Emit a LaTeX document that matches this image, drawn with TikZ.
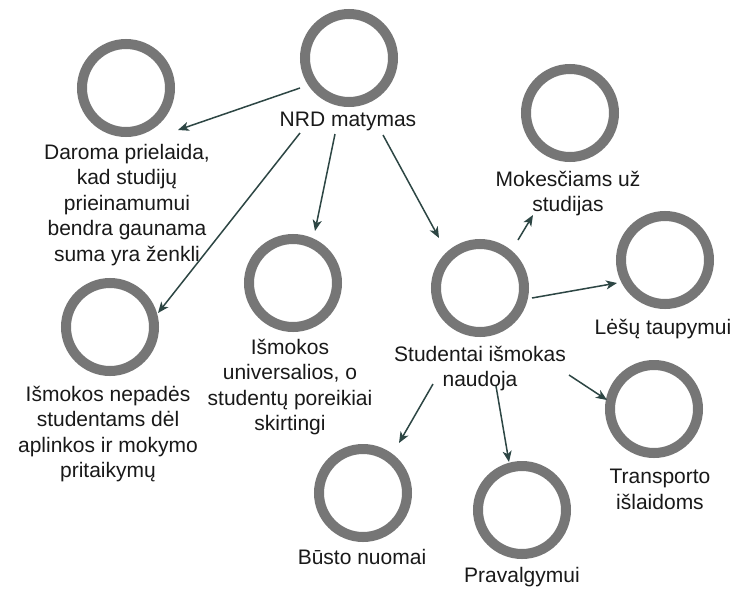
\documentclass[tikz,border=0pt]{standalone}
\usepackage{fontspec}
\setmainfont{Liberation Sans}
\usetikzlibrary{arrows.meta}
\definecolor{ringgray}{RGB}{118,118,118}
\definecolor{arrowc}{RGB}{45,70,68}
\definecolor{textc}{RGB}{25,25,25}
\begin{document}
\begin{tikzpicture}[x=1pt,y=-1pt,
  ring/.style={circle,draw=ringgray,line width=10pt,minimum size=88pt,inner sep=0pt},
  lbl/.style={anchor=north,inner sep=0pt,align=center,text=textc,font=\fontsize{21}{25.5}\selectfont},
  arr/.style={draw=arrowc,line width=1.5pt,-{Stealth[length=11pt,width=9pt,inset=3pt]}}]
\useasboundingbox[fill=white] (0,0) rectangle (740,590);
% rings
\node[ring] (nrdC) at (349,58) {};
\node[ring] (darC) at (126,88) {};
\node[ring] (mokC) at (570,113) {};
\node[ring] (lesC) at (665,260) {};
\node[ring] (stuC) at (480,288) {};
\node[ring] (uniC) at (293,283) {};
\node[ring] (nepC) at (110,327) {};
\node[ring] (traC) at (654,409) {};
\node[ring] (busC) at (363,493) {};
\node[ring] (praC) at (522,510) {};
% labels
\node[lbl] (nrdT) at (348,112) {NRD matymas};
\node[lbl] (darT) at (127,144) {Daroma prielaida,\\kad studijų\\prieinamumui\\bendra gaunama\\suma yra ženkli};
\node[lbl] (mokT) at (568,171) {Mokesčiams už\\studijas};
\node[lbl] (lesT) at (663,319) {Lėšų taupymui};
\node[lbl] (stuT) at (480,346) {Studentai išmokas\\naudoja};
\node[lbl] (traT) at (660,469) {Transporto\\išlaidoms};
\node[lbl] (praT) at (522,567) {Pravalgymui};
\node[lbl] (busT) at (362,549) {Būsto nuomai};
\node[lbl] (uniT) at (290,339) {Išmokos\\universalios, o\\studentų poreikiai\\skirtingi};
\node[lbl] (nepT) at (108,386) {Išmokos nepadės\\studentams dėl\\aplinkos ir mokymo\\pritaikymų};
% arrows
\draw[arr] ([shift={(-49,30)}]nrdC.center) -- ([shift={(52,42)}]darC.center);
\draw[arr] ([shift={(-49,75)}]nrdC.center) -- ([shift={(48,-14)}]nepC.center);
\draw[arr] ([shift={(-14,76)}]nrdC.center) -- ([shift={(22,-52)}]uniC.center);
\draw[arr] ([shift={(34,77)}]nrdC.center) -- ([shift={(-41,-50)}]stuC.center);
\draw[arr] ([shift={(38,-48)}]stuC.center) -- ([shift={(-37,102)}]mokC.center);
\draw[arr] ([shift={(52,10)}]stuC.center) -- ([shift={(-48,23)}]lesC.center);
\draw[arr] ([shift={(89,87)}]stuC.center) -- ([shift={(-47,-9)}]traC.center);
\draw[arr] ([shift={(16,98)}]stuC.center) -- ([shift={(-13,-48)}]praC.center);
\draw[arr] ([shift={(-47,96)}]stuC.center) -- ([shift={(36,-50)}]busC.center);
\end{tikzpicture}
\end{document}
